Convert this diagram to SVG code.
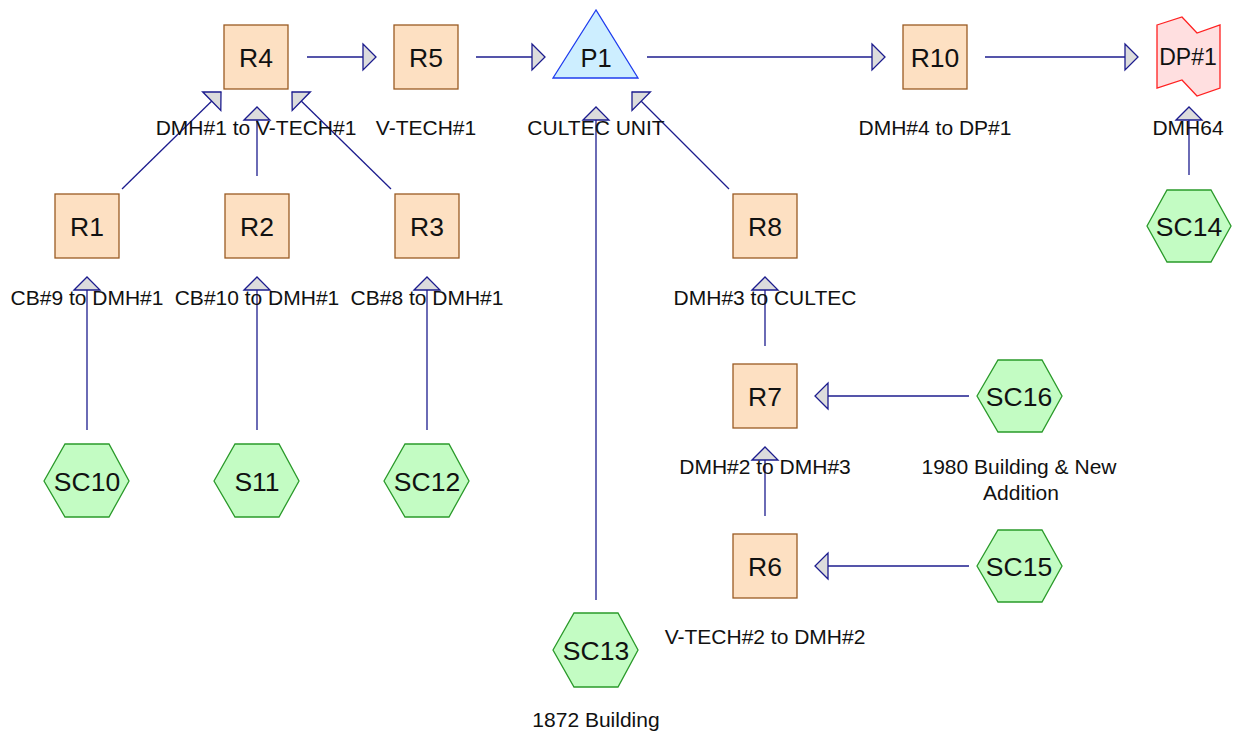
<svg xmlns="http://www.w3.org/2000/svg" width="1233" height="738" viewBox="0 0 1233 738">
<style>
.bg{fill:#ffffff}
.rn rect{fill:#fde0c2;stroke:#9a5b22;stroke-width:1.3}
.hx polygon{fill:#c3fcc3;stroke:#2a9a2a;stroke-width:1.3}
.nl{font-family:"Liberation Sans",Arial,sans-serif;font-size:26.5px;fill:#111;text-anchor:middle}
.el{font-family:"Liberation Sans",Arial,sans-serif;font-size:21px;fill:#111;text-anchor:middle}
.cn line{stroke:#1c1c8e;stroke-width:1.3;marker-end:url(#ah)}
</style>
<defs>
<marker id="ah" markerUnits="userSpaceOnUse" viewBox="-1 -1 16 28" markerWidth="16" markerHeight="28" refX="13" refY="13" orient="auto" overflow="visible">
<path d="M0,0 L13,13 L0,26 Z" fill="#dcdcdc" stroke="#1c1c8e" stroke-width="1.3" stroke-linejoin="miter"/>
</marker>
</defs>
<rect class="bg" x="0" y="0" width="1233" height="738"/>

<g id="connectors" class="cn">
<line x1="307" y1="57" x2="376" y2="57"/>
<line x1="476" y1="57" x2="545" y2="57"/>
<line x1="647" y1="57" x2="885" y2="57"/>
<line x1="985" y1="57" x2="1138" y2="57"/>
<line x1="122" y1="189" x2="221" y2="92"/>
<line x1="257" y1="176" x2="257" y2="107"/>
<line x1="391" y1="189" x2="292" y2="92"/>
<line x1="87" y1="430" x2="87" y2="277"/>
<line x1="257" y1="430" x2="257" y2="277"/>
<line x1="427" y1="430" x2="427" y2="277"/>
<line x1="596" y1="600" x2="596" y2="107"/>
<line x1="729" y1="189" x2="632" y2="92"/>
<line x1="765" y1="346" x2="765" y2="277"/>
<line x1="765" y1="516" x2="765" y2="447"/>
<line x1="969" y1="396" x2="815" y2="396"/>
<line x1="969" y1="566" x2="815" y2="566"/>
<line x1="1189" y1="175" x2="1189" y2="107"/>
</g>

<g id="R4" class="rn"><rect x="224" y="25" width="64" height="64"/><text class="nl" x="256" y="67">R4</text><text class="el" x="256" y="135">DMH#1 to V-TECH#1</text></g>
<g id="R5" class="rn"><rect x="394" y="25" width="64" height="64"/><text class="nl" x="426" y="67">R5</text><text class="el" x="426" y="135">V-TECH#1</text></g>
<g id="P1"><polygon points="596,10 553,78 638,78" fill="#cdeeff" stroke="#1f3cee" stroke-width="1.3"/><text class="nl" x="596" y="67" style="font-size:25.5px">P1</text><text class="el" x="596" y="135">CULTEC UNIT</text></g>
<g id="R10" class="rn"><rect x="903" y="25" width="64" height="64"/><text class="nl" x="935" y="67">R10</text><text class="el" x="935" y="135">DMH#4 to DP#1</text></g>
<g id="DP1"><polygon points="1157,25 1182,17 1197,33 1220,25 1220,88 1197,96 1182,80 1157,88" fill="#ffdfe0" stroke="#ff2020" stroke-width="1.3"/><text class="nl" x="1188" y="65" style="font-size:23px">DP#1</text><text class="el" x="1188" y="135">DMH64</text></g>

<g id="R1" class="rn"><rect x="55" y="194" width="64" height="64"/><text class="nl" x="87" y="236">R1</text><text class="el" x="87" y="305">CB#9 to DMH#1</text></g>
<g id="R2" class="rn"><rect x="225" y="194" width="64" height="64"/><text class="nl" x="257" y="236">R2</text><text class="el" x="257" y="305">CB#10 to DMH#1</text></g>
<g id="R3" class="rn"><rect x="395" y="194" width="64" height="64"/><text class="nl" x="427" y="236">R3</text><text class="el" x="427" y="305">CB#8 to DMH#1</text></g>
<g id="R8" class="rn"><rect x="733" y="194" width="64" height="64"/><text class="nl" x="765" y="236">R8</text><text class="el" x="765" y="305">DMH#3 to CULTEC</text></g>
<g id="R7" class="rn"><rect x="733" y="364" width="64" height="64"/><text class="nl" x="765" y="406">R7</text><text class="el" x="765" y="474">DMH#2 to DMH#3</text></g>
<g id="R6" class="rn"><rect x="733" y="534" width="64" height="64"/><text class="nl" x="765" y="576">R6</text><text class="el" x="765" y="644">V-TECH#2 to DMH#2</text></g>

<g id="SC14" class="hx"><polygon points="1147,226 1167,190 1211,190 1231,226 1211,262 1167,262"/><text class="nl" x="1189" y="236">SC14</text></g>
<g id="SC10" class="hx"><polygon points="44,481 65,444 109,444 129,481 109,517 65,517"/><text class="nl" x="87" y="491">SC10</text></g>
<g id="S11" class="hx"><polygon points="214,481 235,444 279,444 299,481 279,517 235,517"/><text class="nl" x="257" y="491">S11</text></g>
<g id="SC12" class="hx"><polygon points="384,481 405,444 449,444 469,481 449,517 405,517"/><text class="nl" x="427" y="491">SC12</text></g>
<g id="SC16" class="hx"><polygon points="977,396 998,360 1042,360 1062,396 1042,432 998,432"/><text class="nl" x="1019" y="406">SC16</text><text class="el" x="1019" y="474">1980 Building &amp; New</text><text class="el" x="1021" y="500">Addition</text></g>
<g id="SC15" class="hx"><polygon points="977,566 998,530 1042,530 1062,566 1042,602 998,602"/><text class="nl" x="1019" y="576">SC15</text></g>
<g id="SC13" class="hx"><polygon points="553,650 574,613 618,613 638,650 618,687 574,687"/><text class="nl" x="596" y="660">SC13</text><text class="el" x="596" y="727">1872 Building</text></g>
</svg>
